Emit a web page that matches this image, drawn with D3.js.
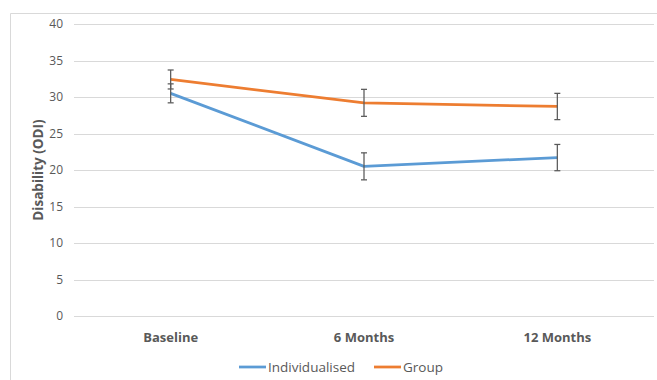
<!DOCTYPE html>
<html>
<head>
<meta charset="utf-8">
<script src="https://cdn.jsdelivr.net/npm/d3@7"></script>
<style>
  body { margin: 0; background: #fff; }
  svg { display: block; font-family: "Open Sans", "Liberation Sans", sans-serif; }
</style>
</head>
<body>
<div id="chart"></div>
<script>
// Data
const categories = ["Baseline", "6 Months", "12 Months"];
const seriesNames = ["Individualised", "Group"];
const individualised = [30.5, 20.5, 21.7];
const individualisedErr = [1.3, 1.85, 1.8];
const group = [32.4, 29.2, 28.7];
const groupErr = [1.3, 1.85, 1.8];
const yTicks = [0, 5, 10, 15, 20, 25, 30, 35, 40];

const width = 657;
const height = 380;
const margin = { top: 24, right: 3, bottom: 64, left: 74 };

const colors = ["#5B9BD5", "#ED7D31"];

const svg = d3.select("#chart")
    .append("svg")
    .attr("width", width)
    .attr("height", height);

// Outer frame (top and left edges visible)
svg.append("path")
    .attr("d", `M10.5,${height} V13.5 H${width}`)
    .attr("fill", "none")
    .attr("stroke", "#D9D9D9")
    .attr("stroke-width", 1);

const x = d3.scaleBand()
    .domain(categories)
    .range([margin.left, width - margin.right]);

const y = d3.scaleLinear()
    .domain([0, 40])
    .range([height - margin.bottom, margin.top]);

// Gridlines
svg.append("g")
    .selectAll("line")
    .data(yTicks)
    .enter().append("line")
    .attr("x1", margin.left)
    .attr("x2", width - margin.right)
    .attr("y1", d => Math.round(y(d)) + 0.5)
    .attr("y2", d => Math.round(y(d)) + 0.5)
    .attr("stroke", "#D9D9D9")
    .attr("stroke-width", 1);

// Y tick labels
svg.append("g")
    .selectAll("text")
    .data(yTicks)
    .enter().append("text")
    .attr("x", margin.left - 11)
    .attr("y", d => y(d))
    .attr("dy", "0.35em")
    .attr("text-anchor", "end")
    .style("font-size", "12px")
    .style("fill", "#595959")
    .text(d => d);

// X category labels
svg.append("g")
    .selectAll("text")
    .data(categories)
    .enter().append("text")
    .attr("x", d => x(d) + x.bandwidth() / 2)
    .attr("y", 342)
    .attr("text-anchor", "middle")
    .style("font-size", "13px")
    .style("font-weight", "bold")
    .style("fill", "#595959")
    .text(d => d);

// Y axis title
svg.append("text")
    .attr("transform", `translate(43, ${(margin.top + height - margin.bottom) / 2}) rotate(-90)`)
    .attr("text-anchor", "middle")
    .style("font-size", "13.5px")
    .style("font-weight", "bold")
    .style("fill", "#595959")
    .text("Disability (ODI)");

const series = [
    { name: seriesNames[0], values: individualised, err: individualisedErr, color: colors[0] },
    { name: seriesNames[1], values: group, err: groupErr, color: colors[1] }
];

const cx = d => x(d) + x.bandwidth() / 2;

const line = d3.line()
    .x((d, i) => cx(categories[i]))
    .y(d => y(d));

// Lines
svg.append("g")
    .selectAll("path")
    .data(series)
    .enter().append("path")
    .attr("d", d => line(d.values))
    .attr("fill", "none")
    .attr("stroke", d => d.color)
    .attr("stroke-width", 2.75)
    .attr("stroke-linejoin", "round");

// Error bars
const errData = [];
series.forEach(s => {
    s.values.forEach((v, i) => errData.push({ x: cx(categories[i]), lo: v - s.err[i], hi: v + s.err[i] }));
});

const eb = svg.append("g")
    .attr("stroke", "#595959")
    .attr("stroke-width", 1.25)
    .selectAll("g")
    .data(errData)
    .enter().append("g");

eb.append("line")
    .attr("x1", d => d.x).attr("x2", d => d.x)
    .attr("y1", d => y(d.lo)).attr("y2", d => y(d.hi));
eb.append("line")
    .attr("x1", d => d.x - 3).attr("x2", d => d.x + 3)
    .attr("y1", d => y(d.lo)).attr("y2", d => y(d.lo));
eb.append("line")
    .attr("x1", d => d.x - 3).attr("x2", d => d.x + 3)
    .attr("y1", d => y(d.hi)).attr("y2", d => y(d.hi));

// Legend
const legendX = [239, 374];
const legend = svg.append("g")
    .selectAll("g")
    .data(series)
    .enter().append("g")
    .attr("transform", (d, i) => `translate(${legendX[i]}, 367)`);

legend.append("line")
    .attr("x1", 0).attr("x2", 27)
    .attr("y1", 0).attr("y2", 0)
    .attr("stroke", d => d.color)
    .attr("stroke-width", 2.75);

legend.append("text")
    .attr("x", 29)
    .attr("y", 0)
    .attr("dy", "0.35em")
    .style("font-size", "13.5px")
    .style("fill", "#595959")
    .text(d => d.name);
</script>
</body>
</html>
